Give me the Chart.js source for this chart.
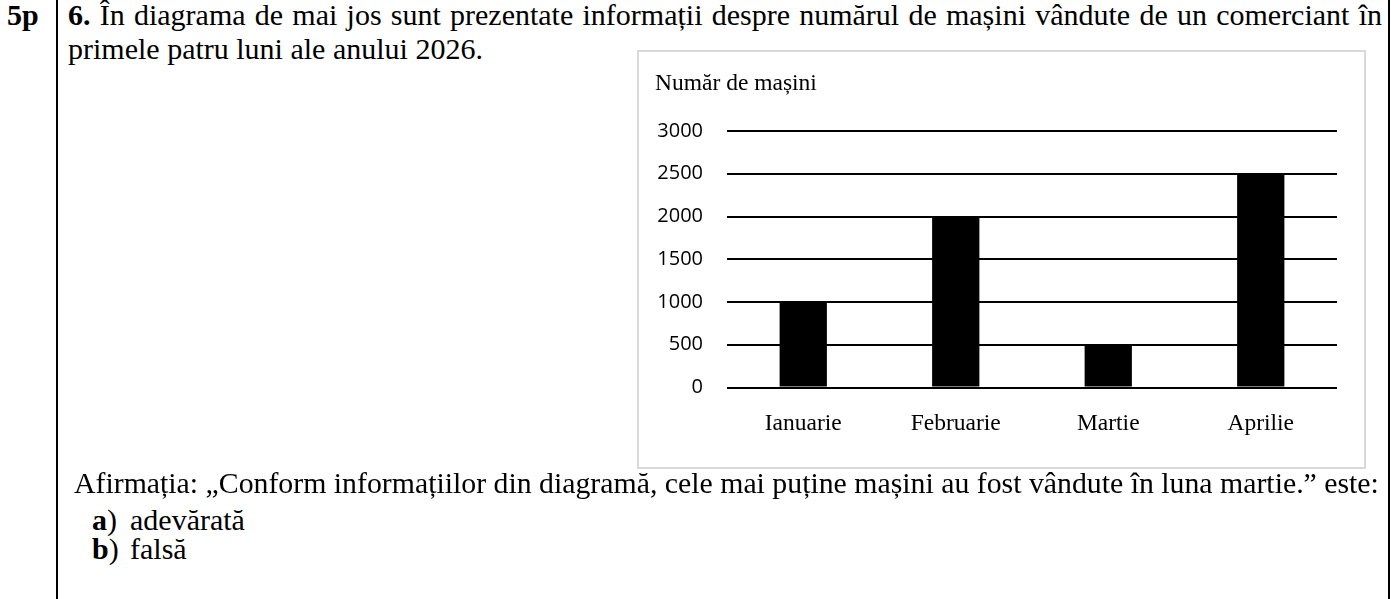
<!DOCTYPE html>
<html>
<head>
<meta charset="utf-8">
<script src="https://cdn.jsdelivr.net/npm/chart.js@4"></script>
<style>
  html, body { margin: 0; padding: 0; background: #fff; }
  body { width: 1391px; height: 599px; position: relative; overflow: hidden;
         font-family: "Liberation Serif", "Times New Roman", serif; color: #000; }
  .ln { position: absolute; white-space: nowrap; font-size: 30px; line-height: 30px; }
  .just { white-space: normal; text-align: justify; text-align-last: justify; height: 30px; }
  .opt span { position: absolute; left: 38px; }
  .vr { position: absolute; top: 0; bottom: 0; width: 2px; background: #000; }
  #box { position: absolute; left: 637px; top: 50px; width: 725px; height: 415px;
         border: 2px solid #d9d9d9; background: #fff; }
  #box canvas { display: block; }
</style>
</head>
<body>
<div class="vr" style="left:56px"></div>
<div class="vr" style="left:1388px"></div>

<div class="ln" style="left:7px;top:0px"><b>5p</b></div>
<div class="ln just" style="left:68px;top:0px;width:1314px"><b>6.</b> În diagrama de mai jos sunt prezentate informații despre numărul de mașini vândute de un comerciant în</div>
<div class="ln" style="left:68px;top:34px">primele patru luni ale anului 2026.</div>

<div id="box"><canvas id="chart" width="725" height="415"></canvas></div>

<div class="ln" style="left:74px;top:468px;font-size:29.8px">Afirmația: „Conform informațiilor din diagramă, cele mai puține mașini au fost vândute în luna martie.” este:</div>
<div class="ln opt" style="left:92px;top:505px"><b>a</b>)<span>adevărată</span></div>
<div class="ln opt" style="left:92px;top:534px"><b>b</b>)<span>falsă</span></div>

<script>
const months = ['Ianuarie', 'Februarie', 'Martie', 'Aprilie'];
const carsSold = [1000, 2000, 500, 2500];
const yMin = 0;
const yMax = 3000;
const yStep = 500;
const axisTitle = 'Număr de mașini';

const serif = 'Liberation Serif';

new Chart(document.getElementById('chart'), {
    type: 'bar',
    data: {
        labels: months,
        datasets: [{
            label: axisTitle,
            data: carsSold,
            backgroundColor: '#000',
            borderWidth: 0,
            barPercentage: 0.31,
            categoryPercentage: 1
        }]
    },
    options: {
        responsive: false,
        animation: false,
        layout: { padding: { left: 16, right: 27, top: 0, bottom: 14 } },
        plugins: {
            legend: { display: false },
            tooltip: { enabled: false },
            title: {
                display: true,
                text: axisTitle,
                align: 'start',
                color: '#000',
                font: { family: serif, size: 23.5, weight: 'normal', lineHeight: 1 },
                padding: { top: 20, bottom: 35.5 }
            }
        },
        scales: {
            x: {
                grid: { display: false },
                border: { display: false },
                ticks: {
                    color: '#000',
                    padding: 17,
                    font: { family: serif, size: 23.5, lineHeight: 1 }
                }
            },
            y: {
                min: yMin,
                max: yMax,
                border: { display: false },
                grid: { color: '#000', lineWidth: 2, drawTicks: false },
                ticks: {
                    stepSize: yStep,
                    color: '#000',
                    padding: 24,
                    font: { family: 'Open Sans', size: 20 },
                    callback: v => String(v)
                },
                afterFit(scale) { scale.width = 72; }
            }
        }
    }
});
</script>
</body>
</html>
